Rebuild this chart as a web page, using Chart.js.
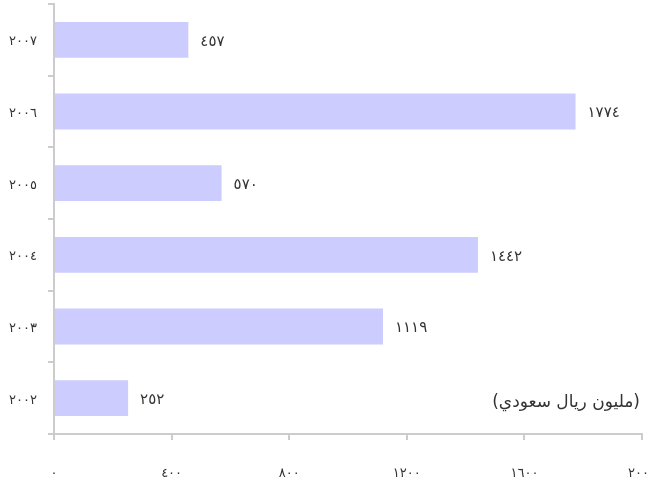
<!DOCTYPE html>
<html>
<head>
<meta charset="utf-8">
<script src="https://cdn.jsdelivr.net/npm/chart.js@4/dist/chart.umd.min.js"></script>
<style>
  html, body { margin: 0; padding: 0; background: #fff; }
  #wrap { width: 651px; height: 486px; }
</style>
</head>
<body>
<div id="wrap"><canvas id="chart" width="651" height="486"></canvas></div>
<script>
// --- Data (top to bottom) ---
var YEARS = ['2007', '2006', '2005', '2004', '2003', '2002'];
var VALUES = [457, 1774, 570, 1442, 1119, 252];
var X_TICKS = [0, 400, 800, 1200, 1600, 2000];
var UNIT_LABEL = '(مليون ريال سعودي)';

var FONT = "'DejaVu Sans', sans-serif";
var TEXT_COLOR = '#333333';
var AXIS_COLOR = '#cccccc';

// Western -> Arabic-Indic digits
function toArabic(n) {
  var digits = '٠١٢٣٤٥٦٧٨٩';
  return String(n).replace(/[0-9]/g, function (d) { return digits[+d]; });
}

// Value labels at bar ends + unit caption
var labelsPlugin = {
  id: 'barLabels',
  afterDatasetsDraw: function (chart) {
    var ctx = chart.ctx;
    var meta = chart.getDatasetMeta(0);
    ctx.save();
    ctx.fillStyle = TEXT_COLOR;
    ctx.font = '15px ' + FONT;
    ctx.textAlign = 'left';
    ctx.textBaseline = 'middle';
    meta.data.forEach(function (bar, i) {
      ctx.fillText(toArabic(VALUES[i]), bar.x + 12, bar.y + 2);
    });

    ctx.font = '17px ' + FONT;
    ctx.textAlign = 'right';
    ctx.direction = 'rtl';
    ctx.fillText(UNIT_LABEL, chart.chartArea.right - 2, 403);
    ctx.restore();
  }
};

new Chart(document.getElementById('chart'), {
  type: 'bar',
  data: {
    labels: YEARS,
    datasets: [{
      data: VALUES,
      backgroundColor: '#ccccff',
      borderWidth: 0,
      barPercentage: 0.5,
      categoryPercentage: 1
    }]
  },
  options: {
    indexAxis: 'y',
    responsive: false,
    animation: false,
    layout: { padding: { top: 4, right: 9, left: 0, bottom: 0 } },
    plugins: {
      legend: { display: false },
      tooltip: { enabled: false }
    },
    scales: {
      x: {
        min: 0,
        max: 2000,
        afterBuildTicks: function (scale) {
          scale.ticks = X_TICKS.map(function (v) { return { value: v }; });
        },
        afterFit: function (scale) {
          scale.height = 52;
          scale.paddingLeft = 0;
          scale.paddingRight = 0;
        },
        ticks: {
          color: TEXT_COLOR,
          font: { family: FONT, size: 13 },
          padding: 26,
          maxRotation: 0,
          autoSkip: false,
          callback: function (v) { return toArabic(v); }
        },
        grid: {
          drawOnChartArea: false,
          drawTicks: true,
          tickLength: 6,
          color: AXIS_COLOR,
          lineWidth: 2
        },
        border: { color: AXIS_COLOR, width: 2 }
      },
      y: {
        afterFit: function (scale) {
          scale.width = 54;
          scale.paddingTop = 0;
          scale.paddingBottom = 0;
        },
        ticks: {
          color: TEXT_COLOR,
          font: { family: FONT, size: 13 },
          padding: 11,
          labelOffset: 2,
          callback: function (v, i) { return toArabic(YEARS[i]); }
        },
        grid: {
          offset: true,
          drawOnChartArea: false,
          drawTicks: true,
          tickLength: 6,
          color: AXIS_COLOR,
          lineWidth: 2
        },
        border: { color: AXIS_COLOR, width: 2 }
      }
    }
  },
  plugins: [labelsPlugin]
});
</script>
</body>
</html>
